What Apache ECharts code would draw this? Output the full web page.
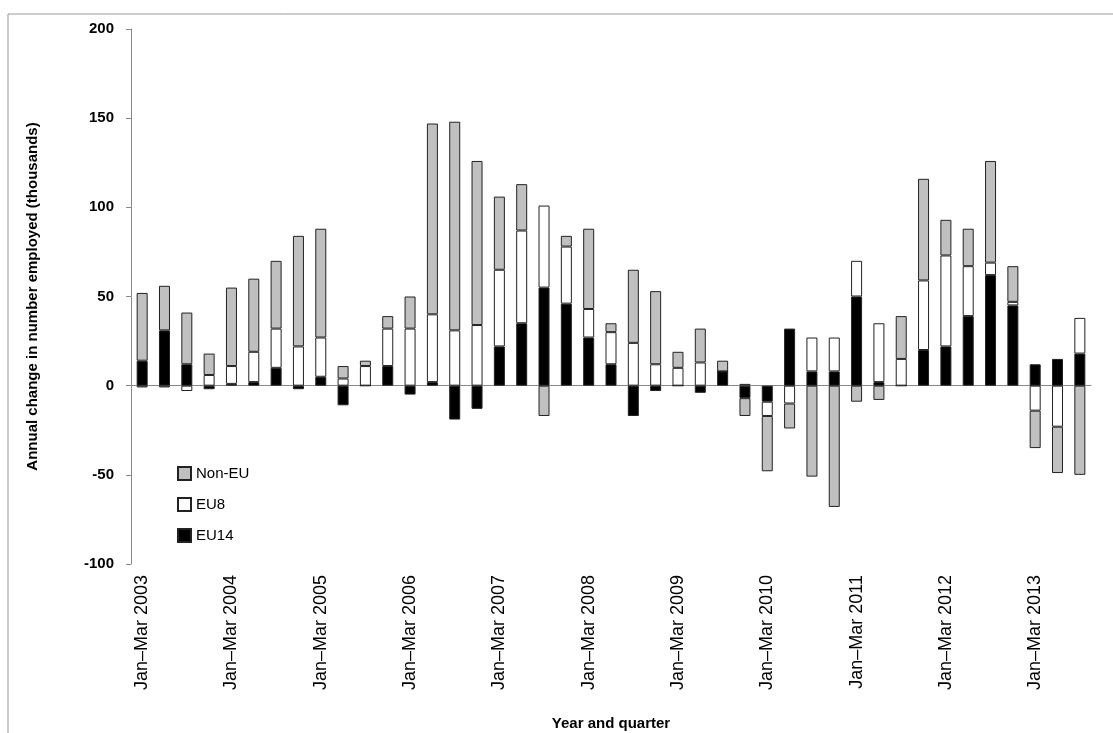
<!DOCTYPE html>
<html lang="en">
<head>
    <meta charset="UTF-8">
    <title>Annual change in employment</title>
    <script src="https://cdn.jsdelivr.net/npm/echarts@6/dist/echarts.min.js"></script>
</head>
<body style="margin:0">
    <div class="chart" style="width:1113px;height:733px"></div>
    <script type="text/javascript">
        const years = ['2003','2004','2005','2006','2007','2008','2009','2010','2011','2012','2013'];
        const quarterNames = ['Jan\u2013Mar','Apr\u2013Jun','Jul\u2013Sep','Oct\u2013Dec'];
        let quarters = [];
        years.forEach(y => quarterNames.forEach(q => quarters.push(q + ' ' + y)));
        quarters = quarters.slice(0, 43);

        const eu14 = [14,31,12,-2,1,2,10,-2,5,-11,0,11,-5,2,-19,-13,22,35,55,46,27,12,-17,-3,0,-4,8,-7,-9,32,8,8,50,2,0,20,22,39,62,45,12,15,18];
        const eu8 = [-1,-1,-3,6,10,17,22,22,22,4,11,21,32,38,31,34,43,52,46,32,16,18,24,12,10,13,0,1,-8,-10,19,19,20,33,15,39,51,28,7,2,-14,-23,20];
        const nonEu = [38,25,29,12,44,41,38,62,61,7,3,7,18,107,117,92,41,26,-17,6,45,5,41,41,9,19,6,-10,-31,-14,-51,-68,-9,-8,24,57,20,21,57,20,-21,-26,-50];

        let chart = echarts.init(document.getElementsByClassName('chart')[0]);
        const txt = {fontFamily: 'Liberation Sans', color: '#000'};
        let bar = (name, data, color) => ({
            name: name, type: 'bar', stack: 'all', data: data, barWidth: 11,
            itemStyle: {color: color, borderColor: '#222', borderWidth: 1}
        });
        chart.setOption({
            animation: false,
            graphic: [{type: 'rect', shape: {x: 8, y: 14, width: 1110, height: 730},
                style: {fill: 'none', stroke: '#999', lineWidth: 1}}],
            legend: {
                data: ['Non-EU', 'EU8', 'EU14'], orient: 'vertical', left: 172, top: 461,
                itemGap: 16, itemWidth: 13, itemHeight: 13, icon: 'rect',
                textStyle: {...txt, fontSize: 15}
            },
            grid: {left: 131, right: 22, top: 29, bottom: 169, outerBoundsMode: 'none', containLabel: false},
            xAxis: [{
                type: 'category', data: quarters, position: 'bottom',
                name: 'Year and quarter', nameLocation: 'middle', nameGap: 152,
                nameTextStyle: {...txt, fontSize: 15, fontWeight: 'bold'},
                axisLine: {show: false, onZero: false},
                axisTick: {show: false},
                axisLabel: {...txt, fontSize: 18, rotate: 90, interval: 3, margin: 11}
            }, {
                type: 'category', data: quarters, position: 'bottom', gridIndex: 0,
                axisLine: {onZero: true, lineStyle: {color: '#888'}},
                axisTick: {lineStyle: {color: '#888'}},
                axisLabel: {show: false}
            }],
            yAxis: {
                type: 'value', min: -100, max: 200, interval: 50,
                name: 'Annual change in number employed (thousands)',
                nameLocation: 'middle', nameGap: 91,
                nameTextStyle: {...txt, fontSize: 15, fontWeight: 'bold'},
                axisLine: {show: true, lineStyle: {color: '#888'}},
                axisTick: {show: true, lineStyle: {color: '#888'}},
                splitLine: {show: false},
                axisLabel: {...txt, fontSize: 15, fontWeight: 'bold', margin: 17}
            },
            series: [
                bar('EU14', eu14, '#000'),
                bar('EU8', eu8, '#fff'),
                bar('Non-EU', nonEu, '#c0c0c0')
            ]
        });
    </script>
</body>
</html>
